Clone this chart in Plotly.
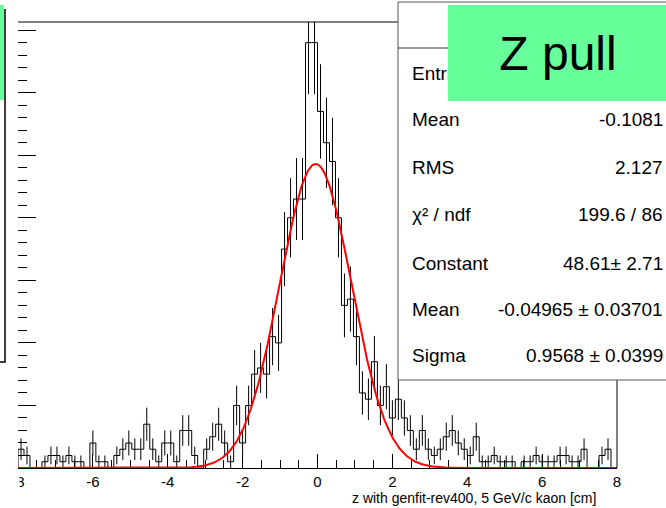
import numpy as np
import plotly.graph_objects as go

# ---------------- data ----------------
x_min, x_max, n_bins = -8.0, 8.0, 100
counts = [3, 2, 0, 0, 1, 2, 2, 1, 2, 1,
          1, 0, 4, 1, 1, 0, 2, 3, 4, 3,
          3, 7, 3, 1, 4, 4, 1, 6, 6, 2,
          0, 3, 5, 7, 4, 1, 10, 4, 10, 15,
          16, 15, 21, 20, 35, 40, 43, 43, 68, 68,
          57, 52, 49, 40, 26, 27, 21, 12, 11, 17,
          10, 13, 8, 11, 8, 6, 3, 6, 3, 2,
          3, 5, 6, 4, 3, 2, 5, 1, 1, 2,
          1, 1, 1, 0, 1, 1, 2, 1, 1, 1,
          2, 2, 1, 1, 3, 0, 0, 2, 3, 0]
fit_constant, fit_mean, fit_sigma = 48.61, -0.04965, 0.9568
x_ticks = [-8, -6, -4, -2, 0, 2, 4, 6, 8]
tick_text = ["-8", "-6", "-4", "-2", "0", "2", "4", "6", "8"]
stat_labels = ["Entries", "Mean", "RMS", "χ² / ndf", "Constant", "Mean", "Sigma"]
stat_values = ["", "-0.1081", "2.127", "199.6 / 86", "48.61± 2.71", "-0.04965 ± 0.03701", "0.9568 ± 0.0399"]
title_text = "Z pull"
x_title = "z with genfit-rev400, 5 GeV/c kaon [cm]"
y_top = 71.3

# ---------------- derived ----------------
edges = np.linspace(x_min, x_max, n_bins + 1)
centers = 0.5 * (edges[:-1] + edges[1:])
cnt = np.array(counts, dtype=float)
step_x = [edges[0]] + list(edges[:-1]) + [edges[-1]]
step_y = [0] + list(cnt) + [0]
gx = np.linspace(x_min, x_max, 600)
gy = fit_constant * np.exp(-0.5 * ((gx - fit_mean) / fit_sigma) ** 2)

W, H = 666, 508
ML, MR, MT, MB = 18, 49, 22, 40
PW, PH = W - ML - MR, H - MT - MB


def px(x):
    return (x - ML) / PW


def py(y):
    return (H - MB - y) / PH


FONT = "Liberation Sans, Arial, sans-serif"
green = "#66ff99"

fig = go.Figure()
fig.add_trace(go.Scatter(x=step_x, y=step_y, mode="lines", line_shape="hv",
                         line=dict(color="black", width=1), showlegend=False,
                         hoverinfo="skip"))
fig.add_trace(go.Scatter(x=centers, y=cnt, mode="markers",
                         marker=dict(size=1, color="rgba(0,0,0,0)"),
                         error_y=dict(type="data", array=np.sqrt(cnt), width=0,
                                      thickness=1, color="black"),
                         cliponaxis=False, showlegend=False, hoverinfo="skip"))
fig.add_trace(go.Scatter(x=gx, y=gy, mode="lines",
                         line=dict(color="#ff0000", width=2), showlegend=False,
                         hoverinfo="skip"))

shapes = [
    dict(type="line", xref="paper", yref="paper", x0=0, x1=1, y0=1, y1=1,
         line=dict(color="black", width=1)),
    dict(type="line", xref="paper", yref="paper", x0=1, x1=1, y0=0, y1=1,
         line=dict(color="black", width=1)),
    dict(type="rect", xref="paper", yref="paper", x0=px(398), x1=px(668),
         y0=py(380), y1=py(2), fillcolor="white", line=dict(color="#555", width=1),
         layer="above"),
    dict(type="line", xref="paper", yref="paper", x0=px(398), x1=px(668),
         y0=py(48), y1=py(48), line=dict(color="#333", width=1), layer="above"),
    # pad edge hiding the left part of the first tick label
    dict(type="rect", xref="paper", yref="paper", x0=px(-3), x1=px(19.5),
         y0=py(497), y1=py(470), fillcolor="white", line=dict(width=0), layer="above"),
    dict(type="rect", xref="paper", yref="paper", x0=px(-2), x1=px(4),
         y0=py(100), y1=py(5), fillcolor=green, line=dict(width=0), layer="above"),
    dict(type="path", xref="paper", yref="paper",
         path=f"M {px(5)} {py(9)} L {px(5)} {py(362)} L {px(-2)} {py(362)}",
         line=dict(color="black", width=1.5), layer="above"),
]

annotations = []
row_y = [73, 120, 168, 214, 263, 309, 355]
for lab, val, yy in zip(stat_labels, stat_values, row_y):
    annotations.append(dict(xref="paper", yref="paper", x=px(410), y=py(yy),
                            xanchor="left", yanchor="middle", text=lab, showarrow=False,
                            font=dict(family=FONT, size=19, color="black")))
    if val:
        annotations.append(dict(xref="paper", yref="paper", x=px(665), y=py(yy),
                                xanchor="right", yanchor="middle", text=val, showarrow=False,
                                font=dict(family=FONT, size=19, color="black")))
annotations.append(dict(xref="paper", yref="paper", x=px(448), y=py(5),
                        xanchor="left", yanchor="top", text=title_text, showarrow=False,
                        width=220, height=96, bgcolor=green, borderpad=0, borderwidth=0,
                        align="center", valign="middle",
                        font=dict(family=FONT, size=48, color="black")))
annotations.append(dict(xref="paper", yref="paper", x=px(598), y=py(498),
                        xanchor="right", yanchor="middle", text=x_title, showarrow=False,
                        font=dict(family=FONT, size=14, color="black")))

fig.update_layout(
    width=W, height=H, margin=dict(l=ML, r=MR, t=MT, b=MB, autoexpand=False),
    paper_bgcolor="white", plot_bgcolor="white",
    shapes=shapes, annotations=annotations, showlegend=False,
    xaxis=dict(range=[x_min, x_max], tickmode="array", tickvals=x_ticks, ticktext=tick_text,
               ticks="inside", ticklen=14, tickwidth=1, tickcolor="black",
               minor=dict(ticks="inside", ticklen=8, dtick=0.5, tick0=0, tickcolor="black"),
               showline=True, linecolor="black", linewidth=1, showgrid=False, zeroline=False,
               layer="below traces",
               tickfont=dict(family=FONT, size=15, color="black")),
    yaxis=dict(range=[0, y_top], tickmode="linear", tick0=0, dtick=10,
               ticks="inside", ticklen=18, tickwidth=1, tickcolor="black",
               minor=dict(ticks="inside", ticklen=9, dtick=2, tick0=0, tickcolor="black"),
               showticklabels=False, showline=False, showgrid=False, zeroline=False),
)

fig.write_html("out.html")
